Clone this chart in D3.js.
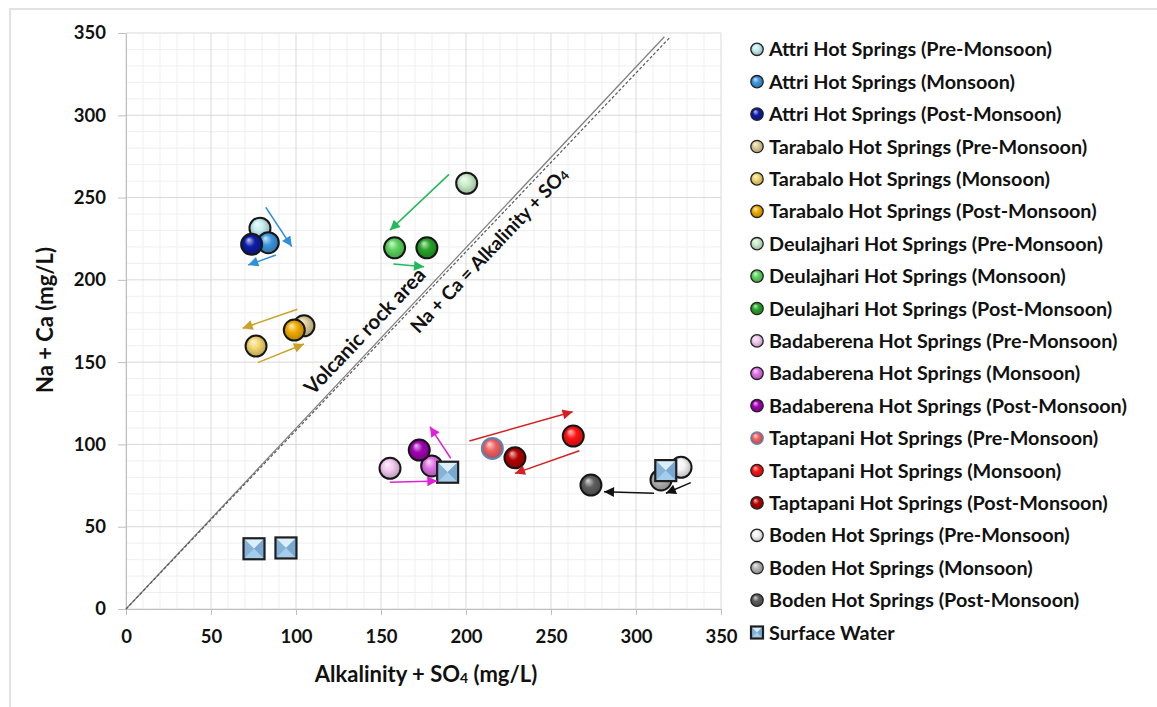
<!DOCTYPE html>
<html>
<head>
<meta charset="utf-8">
<script src="https://cdn.jsdelivr.net/npm/d3@7"></script>
<style>
  body { margin: 0; background: #fff; }
  svg { display: block; font-family: Lato, "Open Sans", sans-serif; font-weight: 700; }
</style>
</head>
<body>
<div id="chart"></div>
<script>
// hot springs and seasons, one point per spring per season
const springs = ["Attri", "Tarabalo", "Deulajhari", "Badaberena", "Taptapani", "Boden"];
const seasons = ["Pre-Monsoon", "Monsoon", "Post-Monsoon"];

// Alkalinity + SO4 (mg/L), rows = springs, cols = seasons
const alkSO4 = [
  [78.8, 83.7, 73.9],
  [104.7, 76.5, 99.0],
  [200.4, 158.0, 177.0],
  [155.3, 179.8, 172.5],
  [215.5, 263.1, 228.8],
  [326.5, 314.7, 273.5]
];
// Na + Ca (mg/L)
const naCa = [
  [231.4, 222.6, 221.6],
  [172.1, 159.8, 169.5],
  [258.7, 219.5, 219.5],
  [85.5, 86.9, 96.6],
  [97.6, 105.1, 91.9],
  [86.1, 78.4, 75.3]
];

const surfaceAlk = [189.2, 317.5, 75.3, 94.1];
const surfaceNaCa = [83.1, 84.1, 36.6, 37.1];

// seasonal trend arrows [from, to] in data units, two per spring
const trendArrows = [
  [[[82.2, 244.1], [97.5, 220.2]], [[88.2, 215.1], [71.9, 209.0]]],
  [[[100.8, 182.1], [68.6, 170.6]], [[77.5, 149.7], [104.7, 161.0]]],
  [[[190.0, 264.1], [155.3, 230.2]], [[157.3, 209.6], [175.3, 208.0]]],
  [[[155.3, 77.0], [183.1, 77.8]], [[191.0, 91.6], [178.8, 110.8]]],
  [[[202.0, 102.1], [262.7, 119.9]], [[266.7, 96.2], [228.8, 82.4]]],
  [[[310.6, 70.3], [281.2, 71.3]], [[332.2, 76.8], [317.6, 70.3]]]
];

// reference lines
const lineSolid = [[0, 0], [316.7, 347.7]];
const lineDashed = [[0, 0], [320.0, 347.4]];

const xTicks = [0, 50, 100, 150, 200, 250, 300, 350];
const yTicks = [0, 50, 100, 150, 200, 250, 300, 350];

// colours
const sphereColors = [
  ["#c4ecef", "#3c95dd", "#0c1ca6"],
  ["#dccb98", "#f2d56e", "#f0ab00"],
  ["#c9ecc9", "#5cd35c", "#27a327"],
  ["#f3c9f0", "#e070e6", "#a000b2"],
  ["#f06262", "#ff1212", "#b30000"],
  ["#f4f4f4", "#b4b4b4", "#5e5e5e"]
];
const arrowColors = ["#2f8fd8", "#c9a227", "#1fba5a", "#e020d8", "#d42020", "#111111"];

const W = 1157, H = 707;
const svg = d3.select("#chart").append("svg")
  .attr("width", W).attr("height", H);

svg.append("rect").attr("width", W).attr("height", H).attr("fill", "#fff");
svg.append("rect")
  .attr("x", 10).attr("y", 9).attr("width", W + 20).attr("height", H + 20)
  .attr("fill", "none").attr("stroke", "#d9d9d9").attr("stroke-width", 1.5);

const x = d3.scaleLinear().domain([0, 350]).range([126, 721]);
const y = d3.scaleLinear().domain([0, 350]).range([609, 33]);

const defs = svg.append("defs");

function sphereGrad(id, base) {
  const g = defs.append("radialGradient").attr("id", id)
    .attr("cx", "50%").attr("cy", "50%").attr("r", "55%")
    .attr("fx", "35%").attr("fy", "28%");
  g.append("stop").attr("offset", "0%").attr("stop-color", d3.interpolateRgb(base, "#fff")(0.75));
  g.append("stop").attr("offset", "45%").attr("stop-color", base);
  g.append("stop").attr("offset", "100%").attr("stop-color", d3.color(base).darker(0.9));
}

sphereColors.forEach((row, i) => row.forEach((c, j) => sphereGrad(`g${i}_${j}`, c)));

// arrow heads
arrowColors.forEach((c, i) => {
  defs.append("marker").attr("id", `ah${i}`)
    .attr("viewBox", "0 0 10 10").attr("refX", 10).attr("refY", 5)
    .attr("markerWidth", 12).attr("markerHeight", 10)
    .attr("markerUnits", "userSpaceOnUse")
    .attr("orient", "auto")
    .append("path").attr("d", "M0,0L10,5L0,10Z").attr("fill", c);
});

// grid
const grid = svg.append("g");
const minor = d3.range(0, 351, 10);
grid.selectAll(".vx").data(minor).join("line")
  .attr("x1", d => x(d)).attr("x2", d => x(d))
  .attr("y1", y(0)).attr("y2", y(350))
  .attr("stroke", d => d % 50 === 0 ? "#d9d9d9" : "#efefef").attr("stroke-width", 1);
grid.selectAll(".hy").data(minor).join("line")
  .attr("y1", d => y(d)).attr("y2", d => y(d))
  .attr("x1", x(0)).attr("x2", x(350))
  .attr("stroke", d => d % 50 === 0 ? "#d9d9d9" : "#efefef").attr("stroke-width", 1);
grid.selectAll("line").sort((a, b) => (a % 50 === 0) - (b % 50 === 0));

// axes
const xAxis = svg.append("g").attr("transform", `translate(0,${y(0)})`)
  .call(d3.axisBottom(x).tickValues(xTicks).tickSize(6).tickSizeOuter(0).tickPadding(15));
const yAxis = svg.append("g").attr("transform", `translate(${x(0)},0)`)
  .call(d3.axisLeft(y).tickValues(yTicks).tickSize(8).tickSizeOuter(0).tickPadding(12));
[xAxis, yAxis].forEach(a => {
  a.select(".domain").attr("stroke", "#bfbfbf");
  a.selectAll(".tick line").attr("stroke", "#bfbfbf");
  a.selectAll(".tick text").attr("font-size", 18.5).attr("font-weight", 700)
    .attr("font-family", "Lato, sans-serif").attr("fill", "#111");
});

// axis titles
const xt = svg.append("text").attr("x", 426).attr("y", 682).attr("text-anchor", "middle")
  .attr("font-size", 22).attr("fill", "#111");
xt.append("tspan").text("Alkalinity + SO");
xt.append("tspan").text("4").attr("font-size", 14).attr("dy", 1);
xt.append("tspan").text(" (mg/L)").attr("dy", -1);

svg.append("text")
  .attr("transform", "translate(53,320) rotate(-90)")
  .attr("text-anchor", "middle").attr("font-size", 22).attr("fill", "#111")
  .text("Na + Ca (mg/L)");

// reference lines
const line = d3.line().x(d => x(d[0])).y(d => y(d[1]));
svg.append("path").attr("d", line(lineSolid)).attr("stroke", "#7f7f7f")
  .attr("stroke-width", 1.2).attr("fill", "none");
svg.append("path").attr("d", line(lineDashed)).attr("stroke", "#595959")
  .attr("stroke-width", 1.2).attr("stroke-dasharray", "3,2").attr("fill", "none");

// line labels
const ang = -46.5;
svg.append("text")
  .attr("transform", `translate(${x(143.5)},${y(165.9)}) rotate(${ang})`)
  .attr("text-anchor", "middle").attr("font-size", 20.5).attr("fill", "#111")
  .text("Volcanic rock area");
const nl = svg.append("text")
  .attr("transform", `translate(${x(216.5)},${y(215.2)}) rotate(${ang})`)
  .attr("text-anchor", "middle").attr("font-size", 19).attr("fill", "#111");
nl.append("tspan").text("Na + Ca = Alkalinity + SO");
nl.append("tspan").text("4").attr("font-size", 13).attr("dy", 1);

// points
const points = [];
springs.forEach((s, i) => seasons.forEach((se, j) => {
  points.push({ i, j, x: alkSO4[i][j], y: naCa[i][j] });
}));

svg.append("g").selectAll("circle").data(points).join("circle")
  .attr("cx", d => x(d.x)).attr("cy", d => y(d.y)).attr("r", 10.5)
  .attr("fill", d => `url(#g${d.i}_${d.j})`)
  .attr("stroke", d => d.i === 4 && d.j === 0 ? "#5b87b5" : "#161616")
  .attr("stroke-width", 2);

// surface water squares
function pyramid(g, s) {
  const h = s / 2;
  g.append("rect").attr("x", -h).attr("y", -h).attr("width", s).attr("height", s)
    .attr("fill", "#8fbbdf");
  g.append("path").attr("d", `M${-h},${-h}L${h},${-h}L0,0Z`).attr("fill", "#dbeffb");
  g.append("path").attr("d", `M${-h},${-h}L${-h},${h}L0,0Z`).attr("fill", "#86b2d8");
  g.append("path").attr("d", `M${h},${-h}L${h},${h}L0,0Z`).attr("fill", "#79a7d0");
  g.append("path").attr("d", `M${-h},${h}L${h},${h}L0,0Z`).attr("fill", "#a4cdec");
  g.append("rect").attr("x", -h).attr("y", -h).attr("width", s).attr("height", s)
    .attr("fill", "none").attr("stroke", "#1e1e1e").attr("stroke-width", 2.2);
}
svg.append("g").selectAll("g").data(surfaceAlk).join("g")
  .attr("transform", (d, k) => `translate(${x(d)},${y(surfaceNaCa[k])})`)
  .each(function () { pyramid(d3.select(this), 21); });

// arrows
const arrowData = [];
trendArrows.forEach((pair, i) => pair.forEach(a => arrowData.push({ i, a })));
svg.append("g").selectAll("line").data(arrowData).join("line")
  .attr("x1", d => x(d.a[0][0])).attr("y1", d => y(d.a[0][1]))
  .attr("x2", d => x(d.a[1][0])).attr("y2", d => y(d.a[1][1]))
  .attr("stroke", d => arrowColors[d.i]).attr("stroke-width", 1.5)
  .attr("marker-end", d => `url(#ah${d.i})`);

// legend
const legendItems = [];
springs.forEach((s, i) => seasons.forEach((se, j) => {
  legendItems.push({ label: `${s} Hot Springs (${se})`, i, j });
}));
legendItems.push({ label: "Surface Water", sq: true });

const leg = svg.append("g");
const rowY = k => 49.3 + k * 32.4;
legendItems.forEach((d, k) => {
  const g = leg.append("g").attr("transform", `translate(757,${rowY(k)})`);
  if (d.sq) {
    pyramid(g, 12);
  } else {
    g.append("circle").attr("r", 6.2).attr("fill", `url(#g${d.i}_${d.j})`)
      .attr("stroke", d.i === 4 && d.j === 0 ? "#5b87b5" : "#222").attr("stroke-width", 1.3);
  }
  g.append("text").attr("x", 12).attr("dy", "0.36em").attr("font-size", 19.8)
    .attr("fill", "#111").text(d.label);
});
</script>
</body>
</html>
